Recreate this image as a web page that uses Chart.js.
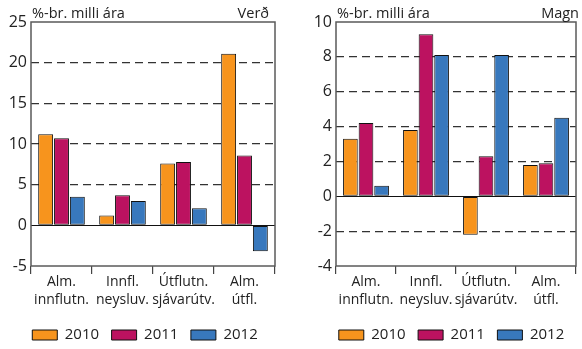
<!DOCTYPE html>
<html>
<head>
<meta charset="utf-8">
<script src="https://cdn.jsdelivr.net/npm/chart.js@4/dist/chart.umd.min.js"></script>
<style>
  html, body { margin: 0; padding: 0; background: #fff; }
  #wrap { position: relative; width: 582px; height: 349px; }
  .box { position: absolute; top: 0; height: 349px; }
  #left { left: 0; width: 290px; }
  #right { left: 290px; width: 292px; }
</style>
</head>
<body>
<div id="wrap">
  <div class="box" id="left"><canvas id="verd"></canvas></div>
  <div class="box" id="right"><canvas id="magn"></canvas></div>
</div>
<script>
// Vöruflokkar og ár
const categories = [['Alm.', 'innflutn.'], ['Innfl.', 'neysluv.'], ['Útflutn.', 'sjávarútv.'], ['Alm.', 'útfl.']];
const years = ['2010', '2011', '2012'];

// Verð, %-br. milli ára
const verd2010 = [11.2, 1.2, 7.6, 21.1];
const verd2011 = [10.7, 3.7, 7.8, 8.6];
const verd2012 = [3.5, 3.0, 2.1, -3.2];

// Magn, %-br. milli ára
const magn2010 = [3.3, 3.8, -2.2, 1.8];
const magn2011 = [4.2, 9.3, 2.3, 1.9];
const magn2012 = [0.6, 8.1, 8.1, 4.5];

const colors = ['#f7941d', '#bc1260', '#3878bd'];
const FONT = "'Open Sans', sans-serif";
const TXT = '#222';

Chart.defaults.font.family = FONT;
Chart.defaults.font.size = 15;
Chart.defaults.color = TXT;

// ramma, núlllína og fyrirsagnir
const framePlugin = {
    id: 'frame',
    beforeDatasetsDraw(chart) {
        const { ctx, chartArea: a, scales: { y } } = chart;
        const z = Math.round(y.getPixelForValue(0)) + 0.5;
        ctx.save();
        ctx.strokeStyle = '#111';
        ctx.lineWidth = 1;
        ctx.beginPath(); ctx.moveTo(a.left, z); ctx.lineTo(a.right, z); ctx.stroke();
        ctx.restore();
    },
    afterDraw(chart, args, opts) {
        const { ctx, chartArea: a } = chart;
        ctx.save();
        ctx.strokeStyle = '#5a5a5a';
        ctx.lineWidth = 1.5;
        ctx.strokeRect(a.left, a.top, a.right - a.left, a.bottom - a.top);
        ctx.fillStyle = TXT;
        ctx.font = '14.5px ' + FONT;
        ctx.textBaseline = 'alphabetic';
        ctx.textAlign = 'left';
        ctx.fillText(opts.unit, a.left + 1, a.top - 4);
        ctx.textAlign = 'right';
        ctx.fillText(opts.label, a.right + opts.labelShift, a.top - 4);
        ctx.restore();
    }
};

function makeChart(id, series, min, max, step, label, labelShift, padRight, yWidth, rightWidth) {
    return new Chart(document.getElementById(id), {
        type: 'bar',
        data: {
            labels: categories,
            datasets: series.map((d, i) => ({
                label: years[i], data: d, backgroundColor: colors[i],
                borderColor: '#111', borderWidth: 1, borderSkipped: false,
                barPercentage: 0.94, categoryPercentage: 0.78
            }))
        },
        options: {
            responsive: true, maintainAspectRatio: false, animation: false,
            layout: { padding: { top: 22, right: padRight, bottom: -3.5, left: 0 } },
            plugins: {
                legend: {
                    position: 'bottom',
                    labels: { boxWidth: 25, boxHeight: 10, padding: 12.5, color: TXT, font: { size: 15 } }
                },
                tooltip: { enabled: false },
                frame: { unit: '%-br. milli ára', label, labelShift }
            },
            scales: {
                x: {
                    offset: true,
                    border: { display: false },
                    grid: { offset: true, drawOnChartArea: false, tickLength: 8, color: '#444', lineWidth: 1.2 },
                    ticks: { padding: -1, color: TXT, maxRotation: 0, autoSkip: false, font: { size: 14, lineHeight: 1.28 } },
                    afterFit(s) { s.height = 49; }
                },
                y: {
                    min, max,
                    border: { display: false, dash: [8, 5] },
                    grid: {
                        drawTicks: false, lineWidth: 1.2,
                        color: c => (c.tick.value === 0 || c.tick.value === min || c.tick.value === max) ? 'rgba(0,0,0,0)' : '#333'
                    },
                    ticks: { stepSize: step, padding: 4, color: TXT, font: { size: 16 } },
                    afterFit(s) { s.width = yWidth; }
                },
                // tómur ás hægra megin, heldur bili við brún
                yr: {
                    type: 'linear', position: 'right',
                    border: { display: false },
                    grid: { display: false },
                    ticks: { display: false },
                    afterFit(s) { s.width = rightWidth; }
                }
            }
        },
        plugins: [framePlugin]
    });
}

makeChart('verd', [verd2010, verd2011, verd2012], -5, 25, 5, 'Verð', -6, 0, 31, 15);
makeChart('magn', [magn2010, magn2011, magn2012], -4, 10, 2, 'Magn', 3, -31, 46, 37);
</script>
</body>
</html>
